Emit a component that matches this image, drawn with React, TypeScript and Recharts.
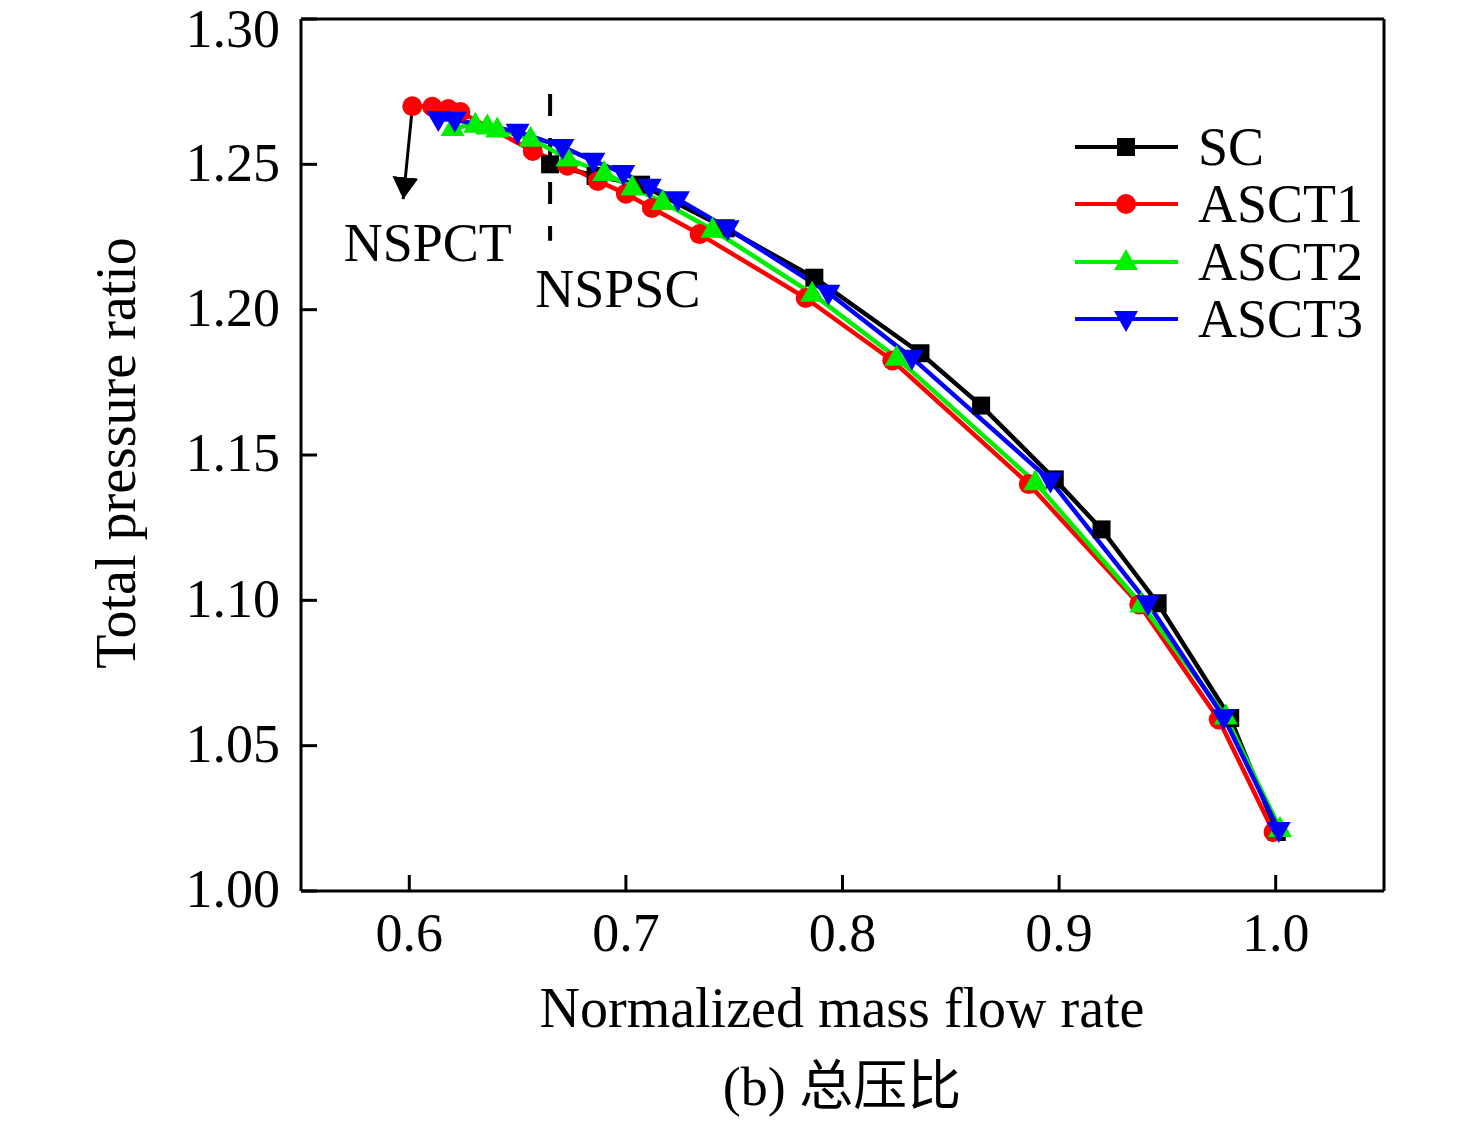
import React from 'react';
import {
  LineChart,
  Line,
  XAxis,
  YAxis,
  ReferenceLine,
  ReferenceDot,
} from 'recharts';

// Reference curves
const scX = [0.665, 0.686, 0.707, 0.746, 0.787, 0.836, 0.864, 0.898, 0.9196, 0.9455, 0.979, 1.0005];
const scY = [1.25, 1.246, 1.243, 1.228, 1.211, 1.185, 1.167, 1.1416, 1.1244, 1.099, 1.0595, 1.0203];

const asct1X = [0.6014, 0.6106, 0.618, 0.6236, 0.657, 0.673, 0.687, 0.7, 0.712, 0.734, 0.783, 0.823, 0.886, 0.937, 0.9737, 0.999];
const asct1Y = [1.27, 1.2698, 1.269, 1.268, 1.2546, 1.2495, 1.2443, 1.2399, 1.235, 1.226, 1.204, 1.1825, 1.14, 1.0986, 1.059, 1.0203];

const asct2X = [0.62, 0.6305, 0.636, 0.6406, 0.656, 0.673, 0.69, 0.703, 0.717, 0.74, 0.786, 0.825, 0.889, 0.938, 0.977, 1.002];
const asct2Y = [1.2625, 1.2636, 1.263, 1.262, 1.2588, 1.252, 1.247, 1.242, 1.237, 1.2275, 1.2055, 1.1835, 1.1406, 1.0986, 1.06, 1.0213];

const asct3X = [0.6134, 0.621, 0.65, 0.6707, 0.685, 0.6988, 0.711, 0.724, 0.747, 0.7935, 0.832, 0.896, 0.941, 0.976, 1.0014];
const asct3Y = [1.2656, 1.2653, 1.2612, 1.256, 1.2512, 1.247, 1.2423, 1.238, 1.228, 1.2058, 1.1835, 1.1412, 1.099, 1.0598, 1.021];

const xTicks = [0.6, 0.7, 0.8, 0.9, 1.0];
const yTicks = [1.0, 1.05, 1.1, 1.15, 1.2, 1.25, 1.3];

const seriesNames = ['SC', 'ASCT1', 'ASCT2', 'ASCT3'];
const seriesColors = ['#000000', '#ff0000', '#00ee00', '#0000ff'];
const seriesShapes = ['square', 'circle', 'triangle', 'down'];

const font = "'Liberation Serif', 'Times New Roman', serif";

const toPoints = (xs: number[], ys: number[]) => xs.map((x, i) => ({ x, y: ys[i] }));
const seriesData = [
  toPoints(scX, scY),
  toPoints(asct1X, asct1Y),
  toPoints(asct2X, asct2Y),
  toPoints(asct3X, asct3Y),
];

const Marker = ({ cx, cy, shape, color }: any) => {
  if (cx == null || cy == null) return null;
  if (shape === 'square') return <rect x={cx - 9} y={cy - 9} width={18} height={18} fill={color} />;
  if (shape === 'circle') return <circle cx={cx} cy={cy} r={10} fill={color} />;
  if (shape === 'triangle')
    return <path d={`M${cx},${cy - 13} L${cx + 12},${cy + 8} L${cx - 12},${cy + 8} Z`} fill={color} />;
  return <path d={`M${cx},${cy + 13} L${cx + 12},${cy - 8} L${cx - 12},${cy - 8} Z`} fill={color} />;
};

const Legend = () => (
  <div style={{ position: 'absolute', left: 1072, top: 118, fontFamily: font, fontSize: 54 }}>
    {seriesNames.map((name, i) => (
      <div key={name} style={{ display: 'flex', alignItems: 'center', height: 57.5 }}>
        <svg width={110} height={30}>
          <line x1={3} x2={106} y1={15} y2={15} stroke={seriesColors[i]} strokeWidth={4} />
          <Marker cx={54} cy={15} shape={seriesShapes[i]} color={seriesColors[i]} />
        </svg>
        <span style={{ marginLeft: 16, lineHeight: '54px' }}>{name}</span>
      </div>
    ))}
  </div>
);

const App = () => {
  return (
    <div style={{ position: 'absolute', left: 0, top: 0, width: 1476, height: 1122, background: '#fff' }}>
      <LineChart
        width={1476}
        height={1122}
        margin={{ top: 19, right: 92, left: 0, bottom: 131 }}
        style={{ fontFamily: font }}
      >
        <defs>
          <marker id="arrowHead" markerWidth="22" markerHeight="26" refX="10" refY="5" orient="auto" markerUnits="userSpaceOnUse" viewBox="0 0 10 10" preserveAspectRatio="none">
            <path d="M0,0 L10,5 L0,10 Z" fill="#000" />
          </marker>
        </defs>
        <XAxis
          type="number"
          dataKey="x"
          domain={[0.55, 1.05]}
          ticks={xTicks}
          allowDataOverflow
          height={100}
          stroke="#000"
          strokeWidth={3}
          tickSize={-16}
          tickMargin={38}
          tick={{ fill: '#000', fontSize: 54, fontFamily: font }}
          tickFormatter={(v: number) => v.toFixed(1)}
          label={{
            content: () => (
              <g fontFamily={font} fill="#000">
                <text x={842} y={1027} textAnchor="middle" fontSize={56}>Normalized mass flow rate</text>
                <text x={842} y={1105} textAnchor="middle" fontSize={54} fontFamily="'Liberation Serif', 'Noto Sans CJK SC', serif">(b) 总压比</text>
              </g>
            ),
          }}
        />
        <YAxis
          type="number"
          domain={[1.0, 1.3]}
          ticks={yTicks}
          allowDataOverflow
          width={301}
          stroke="#000"
          strokeWidth={3}
          tickSize={-16}
          tickMargin={37}
          tick={{ fill: '#000', fontSize: 54, fontFamily: font, dy: -3 }}
          tickFormatter={(v: number) => v.toFixed(2)}
          label={{
            content: () => (
              <text x={135} y={453} transform="rotate(-90 135 453)" textAnchor="middle" fontSize={56} fontFamily={font} fill="#000">
                Total pressure ratio
              </text>
            ),
          }}
        />

        {/* closed frame */}
        <ReferenceLine y={1.3} stroke="#000" strokeWidth={3} ifOverflow="visible" />
        <ReferenceLine x={1.05} stroke="#000" strokeWidth={3} ifOverflow="visible" />

        <ReferenceLine
          segment={[{ x: 0.665, y: 1.2742 }, { x: 0.665, y: 1.2237 }]}
          stroke="#000"
          strokeWidth={4}
          strokeDasharray="22 22"
        />
        <ReferenceLine
          segment={[{ x: 0.6014, y: 1.2695 }, { x: 0.5972, y: 1.238 }]}
          stroke="#000"
          strokeWidth={3}
          markerEnd="url(#arrowHead)"
        />
        <ReferenceDot
          x={0.6085}
          y={1.2168}
          r={0}
          shape={(p: any) => (
            <text x={p.cx} y={p.cy} textAnchor="middle" fontSize={54} fontFamily={font} fill="#000">NSPCT</text>
          )}
        />
        <ReferenceDot
          x={0.6963}
          y={1.2008}
          r={0}
          shape={(p: any) => (
            <text x={p.cx} y={p.cy} textAnchor="middle" fontSize={54} fontFamily={font} fill="#000">NSPSC</text>
          )}
        />

        {seriesData.map((data, i) => (
          <Line
            key={seriesNames[i]}
            data={data}
            dataKey="y"
            name={seriesNames[i]}
            type="linear"
            stroke={seriesColors[i]}
            strokeWidth={4.5}
            isAnimationActive={false}
            dot={(p: any) => <Marker key={`${i}-${p.index}`} cx={p.cx} cy={p.cy} shape={seriesShapes[i]} color={seriesColors[i]} />}
            activeDot={false}
          />
        ))}
      </LineChart>
      <Legend />
    </div>
  );
};

export default App;
